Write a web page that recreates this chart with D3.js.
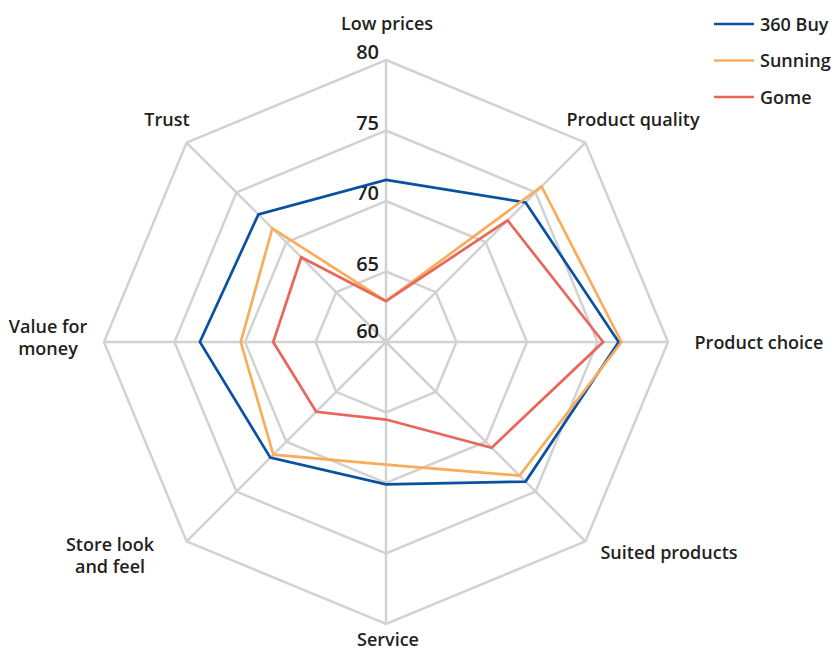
<!DOCTYPE html>
<html>
<head>
<meta charset="utf-8">
<script src="https://cdn.jsdelivr.net/npm/d3@7"></script>
<style>
  body { margin: 0; background: #fff; }
  text { font-family: "Open Sans", sans-serif; font-weight: 600; fill: #231f20; }
</style>
</head>
<body>
<div id="chart"></div>
<script>
// chart values
let axes = ["Low prices", "Product quality", "Product choice", "Suited products",
            "Service", "Store look and feel", "Value for money", "Trust"];
let seriesNames = ["360 Buy", "Sunning", "Gome"];
let buy360 = [71.5, 74.0, 76.5, 74.0, 70.1, 71.6, 73.2, 72.8];
let sunning = [62.9, 75.6, 76.7, 73.4, 68.7, 71.3, 70.3, 71.4];
let gome = [62.9, 72.2, 75.4, 70.6, 65.5, 67.0, 68.0, 68.5];
let ticks = [60, 65, 70, 75, 80];

let colors = ["#0a52a0", "#f9ad5c", "#e8665a"];

let svgWidth = 835;
let svgHeight = 651;
let cx = 386, cy = 342;
let radius = 282;

let svg = d3.select("#chart").append("svg")
    .attr("width", svgWidth)
    .attr("height", svgHeight);

let rScale = d3.scaleLinear().domain([60, 80]).range([0, radius]);
let angle = i => i * 2 * Math.PI / axes.length;

function pt(i, v) {
    let a = angle(i);
    return [cx + rScale(v) * Math.sin(a), cy - rScale(v) * Math.cos(a)];
}

let grid = svg.append("g");

// rings
ticks.slice(1).forEach(t => {
    grid.append("polygon")
        .attr("points", axes.map((d, i) => pt(i, t).join(",")).join(" "))
        .attr("fill", "none")
        .attr("stroke", "#d2d2d2")
        .attr("stroke-width", 2.5);
});

// spokes
axes.forEach((d, i) => {
    let p = pt(i, 80);
    grid.append("line")
        .attr("x1", cx).attr("y1", cy)
        .attr("x2", p[0]).attr("y2", p[1])
        .attr("stroke", "#d2d2d2")
        .attr("stroke-width", 2.5);
});

// tick labels
svg.selectAll(".tick").data(ticks).enter()
    .append("text")
    .attr("class", "tick")
    .attr("x", cx - 7)
    .attr("y", d => d === 60 ? cy - 4 : cy - rScale(d) - 1)
    .attr("text-anchor", "end")
    .style("font-size", "20px")
    .text(d => d);

// series lines
let allSeries = [buy360, sunning, gome];
let line = d3.line().curve(d3.curveLinearClosed);
allSeries.forEach((vals, s) => {
    svg.append("path")
        .attr("d", line(vals.map((v, i) => pt(i, v))))
        .attr("fill", "none")
        .attr("stroke", colors[s])
        .attr("stroke-width", 2.7)
        .attr("stroke-linejoin", "miter");
});

// axis labels
let labelPos = [
    { x: 387, y: 30, lines: ["Low prices"] },
    { x: 633, y: 126, lines: ["Product quality"] },
    { x: 759, y: 349, lines: ["Product choice"] },
    { x: 669, y: 559, lines: ["Suited products"] },
    { x: 388, y: 646, lines: ["Service"] },
    { x: 110, y: 551, lines: ["Store look", "and feel"] },
    { x: 48, y: 333, lines: ["Value for", "money"] },
    { x: 167, y: 126, lines: ["Trust"] }
];
labelPos.forEach(l => {
    let t = svg.append("text")
        .attr("x", l.x)
        .attr("y", l.y)
        .attr("text-anchor", "middle")
        .style("font-size", "18px");
    l.lines.forEach((s, k) => {
        t.append("tspan").attr("x", l.x).attr("dy", k === 0 ? 0 : 22).text(s);
    });
});

// legend
let legend = svg.append("g");
seriesNames.forEach((n, s) => {
    let y = 24 + s * 36.5;
    legend.append("line")
        .attr("x1", 714).attr("x2", 754)
        .attr("y1", y).attr("y2", y)
        .attr("stroke", colors[s])
        .attr("stroke-width", 2.7);
    legend.append("text")
        .attr("x", 760).attr("y", y + 6.5)
        .style("font-size", "18px")
        .text(n);
});
</script>
</body>
</html>
